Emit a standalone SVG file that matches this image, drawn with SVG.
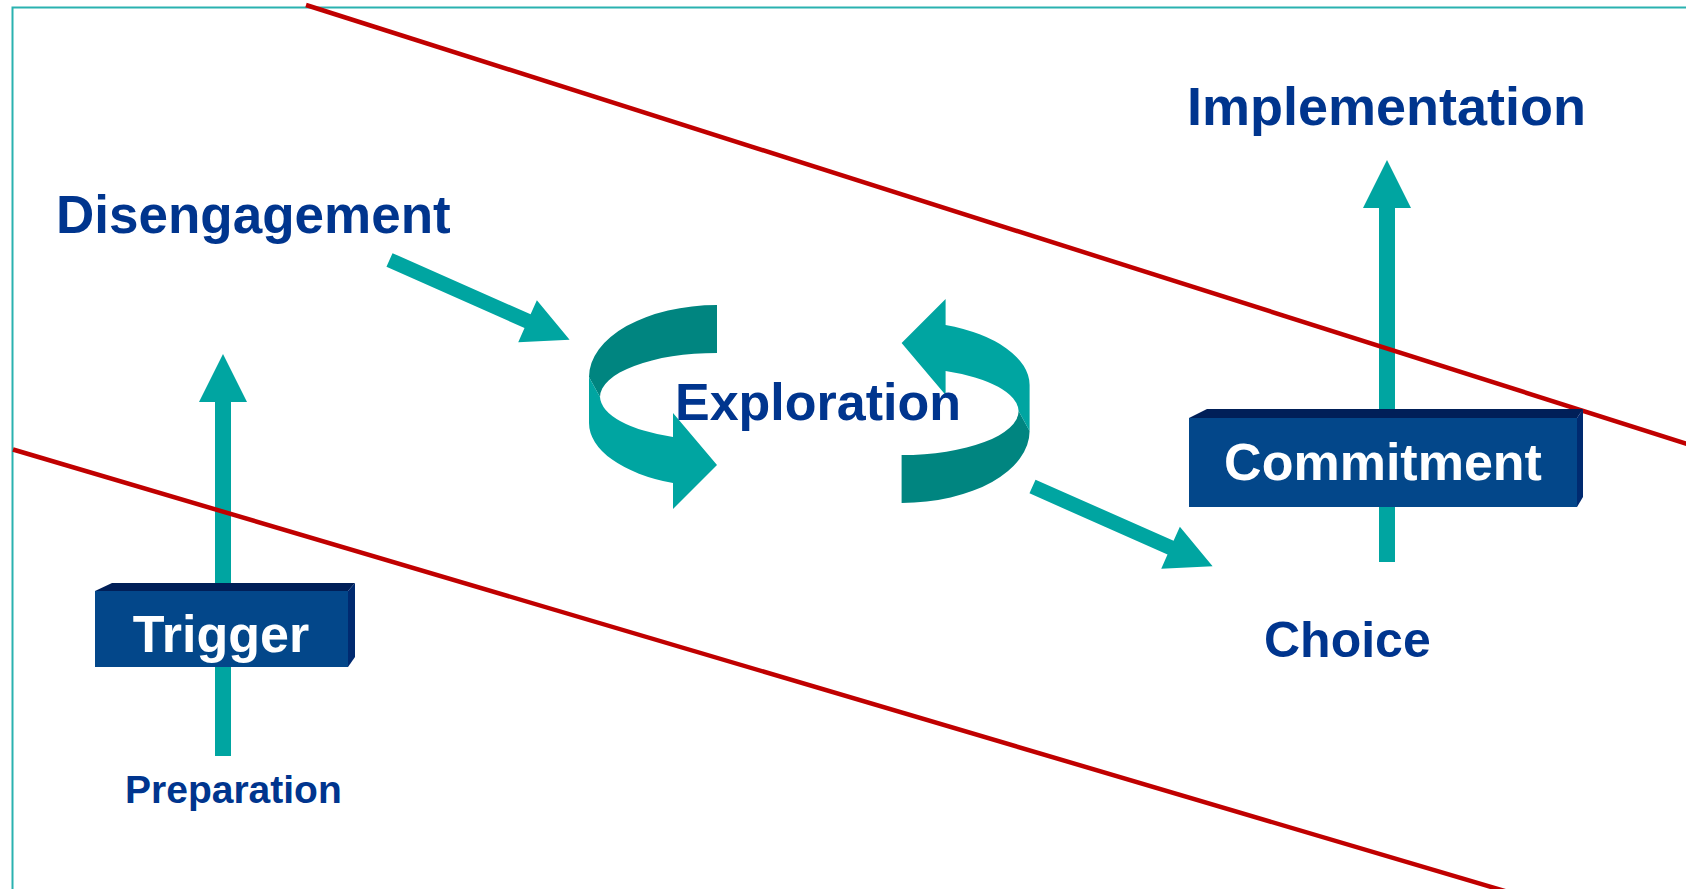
<svg xmlns="http://www.w3.org/2000/svg" width="1686" height="889" viewBox="0 0 1686 889">
  <style>
    .lbl { font-family: "Liberation Sans", Arial, sans-serif; font-weight: bold; fill: #00358e; }
    .boxtxt { font-family: "Liberation Sans", Arial, sans-serif; font-weight: bold; fill: #ffffff; font-size: 52px; text-anchor: middle; }
    .teal { fill: #00a5a1; }
    .dteal { fill: #008580; }
    .red { stroke: #c00000; stroke-width: 4.5; fill: none; }
    .front { fill: #03478a; }
    .top { fill: #001f58; }
    .side { fill: #002a70; }
  </style>
  <defs>
    <path id="vArrow" d="M0,0 L24,48 L8,48 L8,402 L-8,402 L-8,48 L-24,48 Z"/>
    <path id="dArrow" d="M0,-7.5 L151,-7.5 L151,-23 L197,0 L151,23 L151,7.5 L0,7.5 Z"/>
    <g id="cycle">
      <path class="dteal" d="M717,305 A128,72 0 0 0 589,377 L600,397 A117,44 0 0 1 717,353 Z"/>
      <path class="teal" d="M589,377 L589,423 A128,64 0 0 0 673,483 L673,509 L717,465 L673,413 L673,437 A117,44 0 0 1 600,397 Z"/>
    </g>
  </defs>
  <rect x="12.5" y="7.5" width="1700" height="900" fill="none" stroke="#2ab2b0" stroke-width="2"/>
  <g id="connectors">
    <use href="#vArrow" class="teal" transform="translate(223,354)"/>
    <use href="#vArrow" class="teal" transform="translate(1387,160)"/>
    <use href="#dArrow" class="teal" transform="translate(389.5,260) rotate(23.9)"/>
    <use href="#dArrow" class="teal" transform="translate(1032.5,486.5) rotate(23.9)"/>
  </g>
  <g id="exploration-cycle">
    <use href="#cycle"/>
    <use href="#cycle" transform="rotate(180 809.3 404)"/>
  </g>
  <line class="red" x1="306" y1="5" x2="1700" y2="448"/>
  <line class="red" x1="13" y1="449.5" x2="1520" y2="895.5"/>
  <g id="trigger">
    <polygon class="top" points="95,591 112,583 355,583 348,591"/>
    <polygon class="side" points="348,591 355,583 355,657 348,667"/>
    <rect class="front" x="95" y="591" width="253" height="76"/>
    <text class="boxtxt" x="221" y="652">Trigger</text>
  </g>
  <g id="commitment">
    <polygon class="top" points="1189,418 1207,409 1583,409 1577,418"/>
    <polygon class="side" points="1577,418 1583,409 1583,497 1577,507"/>
    <rect class="front" x="1189" y="418" width="388" height="89"/>
    <text class="boxtxt" x="1383" y="480">Commitment</text>
  </g>
  <g id="disengagement"><text class="lbl" x="56" y="233" font-size="53">Disengagement</text></g>
  <g id="implementation"><text class="lbl" x="1187" y="125" font-size="54">Implementation</text></g>
  <g id="exploration"><text class="lbl" x="675" y="420" font-size="52">Exploration</text></g>
  <g id="choice"><text class="lbl" x="1264" y="657" font-size="50">Choice</text></g>
  <g id="preparation"><text class="lbl" x="125" y="803" font-size="39">Preparation</text></g>
</svg>
